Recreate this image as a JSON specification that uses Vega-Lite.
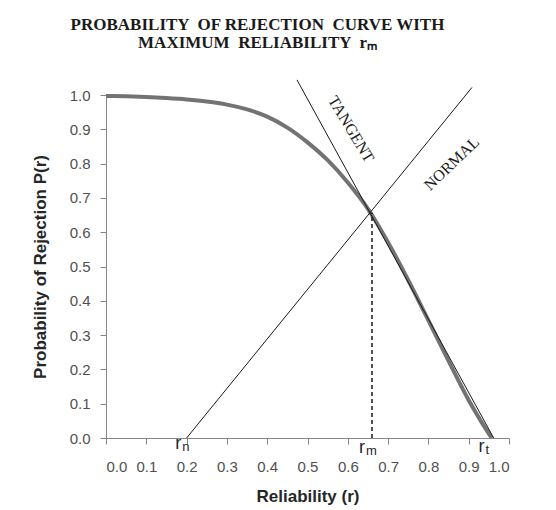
{
  "$schema": "https://vega.github.io/schema/vega-lite/v6.json",
  "autosize": {"type": "none"},
  "width": 403,
  "height": 343,
  "padding": {"left": 106, "top": 95, "right": 47, "bottom": 72},
  "background": "white",
  "config": {"view": {"stroke": null}},
  "title": {
    "text": ["PROBABILITY \u00a0OF REJECTION \u00a0CURVE WITH", "MAXIMUM \u00a0RELIABILITY \u00a0rₘ"],
    "font": "Liberation Serif",
    "fontSize": 17,
    "fontWeight": "bold",
    "color": "#1a1a1a",
    "lineHeight": 18,
    "anchor": "middle",
    "dx": -50,
    "offset": 26
  },
  "datasets": {
    "curve": [
      {"r": 0.0, "p": 0.997},
      {"r": 0.05, "p": 0.996},
      {"r": 0.1, "p": 0.994},
      {"r": 0.15, "p": 0.991},
      {"r": 0.2, "p": 0.987},
      {"r": 0.25, "p": 0.981},
      {"r": 0.3, "p": 0.972},
      {"r": 0.35, "p": 0.958},
      {"r": 0.4, "p": 0.937},
      {"r": 0.45, "p": 0.905},
      {"r": 0.5, "p": 0.862},
      {"r": 0.55, "p": 0.81},
      {"r": 0.6, "p": 0.745},
      {"r": 0.65, "p": 0.668},
      {"r": 0.7, "p": 0.57},
      {"r": 0.75, "p": 0.46},
      {"r": 0.8, "p": 0.343},
      {"r": 0.85, "p": 0.225},
      {"r": 0.9, "p": 0.11},
      {"r": 0.93, "p": 0.05},
      {"r": 0.957, "p": 0.0}
    ],
    "tangent": [
      {"r": 0.474, "p": 1.044},
      {"r": 0.962, "p": 0.0}
    ],
    "normal": [
      {"r": 0.2, "p": 0.0},
      {"r": 0.908, "p": 1.022}
    ],
    "drop": [
      {"r": 0.66, "p": 0.0},
      {"r": 0.66, "p": 0.657}
    ],
    "lineLabels": [
      {"r": 0.608, "p": 0.9, "label": "TANGENT", "angle": 59},
      {"r": 0.858, "p": 0.8, "label": "NORMAL", "angle": -44}
    ],
    "rLabels": [
      {"r": 0.179, "p": -0.033, "label": "r", "sub": "n"},
      {"r": 0.635, "p": -0.045, "label": "r", "sub": "m"},
      {"r": 0.932, "p": -0.04, "label": "r", "sub": "t"}
    ]
  },
  "encoding": {
    "x": {
      "field": "r",
      "type": "quantitative",
      "scale": {"domain": [0, 1], "nice": false, "zero": false},
      "axis": {
        "title": "Reliability (r)",
        "values": [0, 0.1, 0.2, 0.3, 0.4, 0.5, 0.6, 0.7, 0.8, 0.9, 1.0],
        "format": ".1f",
        "grid": false,
        "domainColor": "#868686",
        "tickColor": "#868686",
        "tickSize": 6,
        "labelFont": "Liberation Sans",
        "labelFontSize": 15,
        "labelColor": "#505050",
        "labelPadding": 15,
        "titleFont": "Liberation Sans",
        "titleFontSize": 17,
        "titleFontWeight": "bold",
        "titleColor": "#262626",
        "titlePadding": 14
      }
    },
    "y": {
      "field": "p",
      "type": "quantitative",
      "scale": {"domain": [0, 1], "nice": false, "zero": false},
      "axis": {
        "title": "Probability of Rejection P(r)",
        "values": [0, 0.1, 0.2, 0.3, 0.4, 0.5, 0.6, 0.7, 0.8, 0.9, 1.0],
        "format": ".1f",
        "grid": false,
        "domainColor": "#868686",
        "tickColor": "#868686",
        "tickSize": 6,
        "labelFont": "Liberation Sans",
        "labelFontSize": 15,
        "labelColor": "#505050",
        "labelPadding": 10,
        "titleFont": "Liberation Sans",
        "titleFontSize": 17,
        "titleFontWeight": "bold",
        "titleColor": "#262626",
        "titlePadding": 20
      }
    }
  },
  "layer": [
    {
      "data": {"name": "curve"},
      "mark": {"type": "line", "stroke": "#737373", "strokeWidth": 4, "interpolate": "monotone", "clip": false}
    },
    {
      "data": {"name": "tangent"},
      "mark": {"type": "line", "stroke": "#1a1a1a", "strokeWidth": 1, "clip": false}
    },
    {
      "data": {"name": "normal"},
      "mark": {"type": "line", "stroke": "#1a1a1a", "strokeWidth": 1, "clip": false}
    },
    {
      "data": {"name": "drop"},
      "mark": {"type": "line", "stroke": "#1a1a1a", "strokeWidth": 1.5, "strokeDash": [4, 3]}
    },
    {
      "data": {"name": "lineLabels"},
      "mark": {"type": "text", "font": "Liberation Serif", "fontSize": 16, "color": "#1a1a1a", "align": "center", "baseline": "middle"},
      "encoding": {
        "text": {"field": "label"},
        "angle": {"field": "angle", "type": "quantitative", "scale": null}
      }
    },
    {
      "data": {"name": "rLabels"},
      "mark": {"type": "text", "font": "Liberation Sans", "fontSize": 18, "color": "#262626", "align": "center", "baseline": "alphabetic"},
      "encoding": {"text": {"field": "label"}}
    },
    {
      "data": {"name": "rLabels"},
      "mark": {"type": "text", "font": "Liberation Sans", "fontSize": 13, "color": "#262626", "align": "left", "baseline": "alphabetic", "dx": 4, "dy": 2},
      "encoding": {"text": {"field": "sub"}}
    }
  ]
}
